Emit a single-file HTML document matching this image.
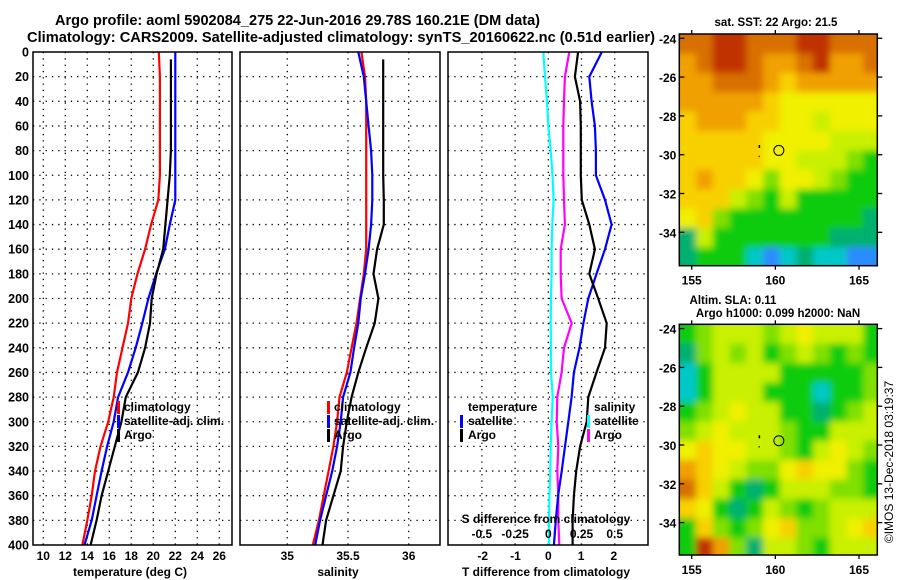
<!DOCTYPE html>
<html><head><meta charset="utf-8">
<style>
html,body{margin:0;padding:0;background:#fff;}
svg{display:block;font-family:"Liberation Sans",sans-serif;font-weight:bold;}
</style></head>
<body>
<svg id="fig" width="900" height="580" viewBox="0 0 900 580" xmlns="http://www.w3.org/2000/svg">
<defs>
<filter id="blur" x="-5%" y="-5%" width="110%" height="110%"><feGaussianBlur stdDeviation="3.5"/></filter>
<clipPath id="clip1"><rect x="679.3" y="34" width="198" height="231.7"/></clipPath>
<clipPath id="clip2"><rect x="679.3" y="324.3" width="198" height="230.7"/></clipPath>
</defs>
<text x="55" y="25" font-size="14.5" textLength="485" lengthAdjust="spacingAndGlyphs">Argo profile: aoml 5902084_275 22-Jun-2016 29.78S 160.21E (DM data)</text>
<text x="27" y="42" font-size="14.5" textLength="628" lengthAdjust="spacingAndGlyphs">Climatology: CARS2009. Satellite-adjusted climatology: synTS_20160622.nc (0.51d earlier)</text>
<g id="root"></g>
</svg>
<script>
// ---- data ----
const depths = [0,20,40,60,80,100,120,140,160,180,200,220,240,260,280,300,320,340,360,380,400];
const depthTicks = [0,20,40,60,80,100,120,140,160,180,200,220,240,260,280,300,320,340,360,380,400];
const tempClim = [20.5,20.6,20.6,20.6,20.6,20.6,20.45,19.8,19.25,18.55,18.0,17.7,17.2,16.7,16.4,15.9,15.2,14.7,14.4,14.0,13.55];
const tempSat  = [22.0,22.0,22.0,22.0,22.0,22.0,22.0,21.5,21.05,20.25,19.55,19.0,18.4,17.7,16.8,16.4,15.8,15.3,14.85,14.4,13.75];
const tempArgo = [21.6,21.6,21.6,21.6,21.6,21.5,21.3,21.1,20.9,20.3,19.85,19.7,19.25,18.6,17.5,17.1,16.5,15.9,15.3,14.85,14.3];
const salClim = [35.61,35.64,35.65,35.65,35.65,35.65,35.65,35.65,35.65,35.63,35.60,35.57,35.53,35.49,35.43,35.41,35.38,35.34,35.30,35.26,35.21];
const salSat  = [35.585,35.63,35.65,35.67,35.69,35.70,35.70,35.69,35.67,35.64,35.605,35.585,35.55,35.52,35.46,35.44,35.41,35.37,35.32,35.27,35.23];
const salArgo = [35.79,35.79,35.79,35.79,35.79,35.79,35.795,35.795,35.74,35.71,35.75,35.72,35.65,35.585,35.53,35.49,35.46,35.44,35.38,35.32,35.29];
const tDiffSat  = [1.63,1.25,1.32,1.42,1.45,1.45,1.73,1.93,1.73,1.47,1.22,1.07,0.95,0.78,0.71,0.61,0.51,0.41,0.30,0.23,0.17];
const tDiffArgo = [0.91,0.81,0.97,0.99,0.99,0.99,1.02,1.25,1.42,1.25,1.52,1.78,1.73,1.47,1.22,1.17,0.97,0.85,0.78,0.74,0.74];
const sDiffSat  = [-0.038,-0.025,-0.01,0.0,0.018,0.032,0.04,0.03,0.025,0.025,0.02,0.018,0.02,0.02,0.033,0.025,0.018,0.015,0.008,0.006,0.005];
const sDiffArgo = [0.158,0.125,0.118,0.113,0.113,0.113,0.118,0.125,0.093,0.093,0.1,0.176,0.118,0.1,0.068,0.063,0.075,0.068,0.075,0.075,0.083];
const tempTicks = [10,12,14,16,18,20,22,24,26];
const salTicks = [35,35.5,36];
const salTickLabels = ["35","35.5","36"];
const tdTicks = [-2,-1,0,1,2];
const sdTicks = [-0.5,-0.25,0,0.25,0.5];
const sdTickLabels = ["-0.5","-0.25","0","0.25","0.5"];
const latTicks = [-24,-26,-28,-30,-32,-34];
const lonTicks = [155,160,165];
const argoLon = 160.21, argoLat = -29.78;
const sstGrid = [
[9,9,10,10,9,9,9,10,10,9,9,9],
[8,9,10,10,9,8,8,9,10,8,8,9],
[8,8,9,9,9,8,7,8,8,8,8,8],
[8,8,8,8,8,7,6,6,6,6,6,6],
[7,8,8,8,7,7,6,6,5,6,6,6],
[7,7,7,7,7,6,6,6,6,5,5,5],
[7,7,7,7,7,6,6,5,5,5,4,3],
[7,8,7,7,6,4,6,6,5,4,3,3],
[7,7,7,5,4,3,5,3,3,3,3,3],
[6,7,4,3,3,3,3,3,3,3,3,2],
[2,5,3,3,3,3,3,3,3,2,2,2],
[2,3,3,3,1,0,1,2,1,1,0,0]];
const slaGrid = [
[3,4,5,5,5,4,5,6,5,5,5,3],
[2,4,5,4,5,3,4,5,4,3,4,3],
[1,3,5,5,5,5,3,3,3,3,3,4],
[1,3,5,5,5,3,3,3,1,3,3,4],
[3,4,5,6,5,5,3,3,2,3,4,5],
[4,5,6,5,5,5,4,3,3,5,5,5],
[6,7,6,6,5,5,4,3,5,6,5,4],
[8,7,6,5,4,4,6,7,6,6,4,3],
[9,7,5,3,2,3,5,5,5,4,4,3],
[7,6,3,2,3,5,4,3,4,5,5,5],
[3,7,4,3,4,6,7,4,4,5,6,7],
[3,10,8,4,2,5,5,4,3,5,5,5]];
const palette = ["#2a8cff","#00c8c8","#00b070","#10cc10","#80e000","#c8f000","#f0f000","#f8d000","#f0a000","#d87000","#c03000"];

// ---- helpers ----
const NS="http://www.w3.org/2000/svg";
const root=document.getElementById('root');
function mk(tag,attrs,parent){const e=document.createElementNS(NS,tag);for(const k in attrs)e.setAttribute(k,attrs[k]);(parent||root).appendChild(e);return e;}
function txt(x,y,s,attrs,parent){const e=mk('text',Object.assign({x:x,y:y,'font-size':12},attrs||{}),parent);e.textContent=s;return e;}

const PT=52, PB=545;
const yD = d => PT + (d/400)*(PB-PT);
function lin(v0,p0,v1,p1){return v=>p0+(v-v0)*(p1-p0)/(v1-v0);}

const panels=[
 {x0:33,x1:232,name:'temperature-panel'},
 {x0:240,x1:440,name:'salinity-panel'},
 {x0:448,x1:648,name:'difference-panel'}];
const xT = lin(10,43.3,26,219.3);
const xS = lin(35,287.3,36,408.7);
const xTd = lin(0,548.3,1,581.1);
const xSd = lin(0,548.3,0.25,581.5);

depthTicks.forEach(d=>{
  const t=txt(29,yD(d)+4.5,String(d),{'text-anchor':'end','font-size':12.5});
  
  
});

function grid(p,xs){
  const g=mk('g',{});
  
  
  depthTicks.forEach(d=>{ if(d>0&&d<400) mk('line',{x1:p.x0,x2:p.x1,y1:yD(d),y2:yD(d),stroke:'#000','stroke-width':1.3,'stroke-dasharray':'1.3 5'},g);});
  xs.forEach(x=>mk('line',{x1:x,x2:x,y1:PT,y2:PB,stroke:'#000','stroke-width':1.3,'stroke-dasharray':'1.3 5'},g));
}
function frame(p){
  const r=mk('rect',{x:p.x0,y:PT,width:p.x1-p.x0,height:PB-PT,fill:'none',stroke:'#000','stroke-width':1.5});
  
  
}
function line(vals,xf,color,name,startDepth){
  const pts=vals.map((v,i)=>[xf(v),yD(i===0&&startDepth!==undefined?startDepth:depths[i])]);
  const pl=mk('polyline',{points:pts.map(p=>p[0].toFixed(1)+','+p[1].toFixed(1)).join(' '),fill:'none',stroke:color,'stroke-width':2.2,'stroke-linejoin':'round'});
  
  
}
function legendMark(x,y,color,name){
  const r=mk('rect',{x:x,y:y-10,width:3,height:13,fill:color});
  
  
}
const FS=12;

// panel 1
grid(panels[0],tempTicks.map(xT));
line(tempClim,xT,'#ff0000','temp-climatology-line');
line(tempSat,xT,'#0000ff','temp-satellite-line');
line(tempArgo,xT,'#000000','temp-argo-line',6);
frame(panels[0]);
tempTicks.forEach(v=>{const t=txt(xT(v),560,String(v),{'text-anchor':'middle','font-size':FS});
  
  });
{const t=txt(130,576,'temperature (deg C)',{'text-anchor':'middle','font-size':FS});
 }
[['climatology','#ff0000'],['satellite-adj. clim.','#0000ff'],['Argo','#000000']].forEach((e,i)=>{
  legendMark(117,411+i*14,e[1],'temp-legend-mark');
  const t=txt(124,411+i*14,e[0],{'font-size':FS});
  
});

// panel 2
grid(panels[1],salTicks.map(xS));
line(salClim,xS,'#ff0000','sal-climatology-line');
line(salSat,xS,'#0000ff','sal-satellite-line');
line(salArgo,xS,'#000000','sal-argo-line',6);
frame(panels[1]);
salTicks.forEach((v,i)=>{const t=txt(xS(v),560,salTickLabels[i],{'text-anchor':'middle','font-size':FS});
  });
{const t=txt(338,576,'salinity',{'text-anchor':'middle','font-size':FS});
 }
[['climatology','#ff0000'],['satellite-adj. clim.','#0000ff'],['Argo','#000000']].forEach((e,i)=>{
  legendMark(327,411+i*14,e[1],'sal-legend-mark');
  const t=txt(334,411+i*14,e[0],{'font-size':FS});
  
});

// panel 3
grid(panels[2],sdTicks.map(xSd));
line(sDiffSat,xSd,'#00ffff','sdiff-satellite-line');
line(sDiffArgo,xSd,'#ff00ff','sdiff-argo-line');
line(tDiffSat,xTd,'#0000ff','tdiff-satellite-line');
line(tDiffArgo,xTd,'#000000','tdiff-argo-line');
frame(panels[2]);
tdTicks.forEach(v=>{const t=txt(xTd(v),560,String(v),{'text-anchor':'middle','font-size':FS});
  });
sdTicks.forEach((v,i)=>{const t=txt(xSd(v),538,sdTickLabels[i],{'text-anchor':'middle','font-size':FS});
  });
{const t=txt(546,523,'S difference from climatology',{'text-anchor':'middle','font-size':FS});
 }
{const t=txt(546,576,'T difference from climatology',{'text-anchor':'middle','font-size':FS});
 }
{const t=txt(468,411,'temperature',{'font-size':FS});}
{const t=txt(594,411,'salinity',{'font-size':FS});}
[['satellite','#0000ff'],['Argo','#000000']].forEach((e,i)=>{
  legendMark(460,425+i*14,e[1],'tdiff-legend-mark');
  const t=txt(468,425+i*14,e[0],{'font-size':FS});
  
});
[['satellite','#00ffff'],['Argo','#ff00ff']].forEach((e,i)=>{
  legendMark(587,425+i*14,e[1],'sdiff-legend-mark');
  const t=txt(594,425+i*14,e[0],{'font-size':FS});
  
});

// maps
const MX0=679.3, MX1=877.3;
const xLon = lin(155,691.7,165,859);
function drawMap(grid,top,bottom,name,clip,titles){
  const yLat = lin(-24,top+4.3,-34,top+198.3);
  const g=mk('g',{});
  
  
  const cg=mk('g',{'clip-path':'url(#'+clip+')'},g);
  const bg=mk('g',{filter:'url(#blur)'},cg);
  const lon0=154.26, lat0=-23.78;
  const cw=xLon(1)-xLon(0), ch=yLat(-1)-yLat(0);
  grid.forEach((row,r)=>row.forEach((v,c)=>{
    let x=xLon(lon0+c), y=yLat(lat0-r), w=cw+0.6, h=ch+0.6;
    if(c===0){x-=12;w+=12;} if(c===row.length-1){w+=12;}
    if(r===0){y-=12;h+=12;} if(r===grid.length-1){h+=12;}
    const cell=mk('rect',{x:x.toFixed(2),y:y.toFixed(2),width:w.toFixed(2),height:h.toFixed(2),fill:palette[v]},bg);
    
    
  }));
  mk('rect',{x:MX0,y:top,width:MX1-MX0,height:bottom-top,fill:'none',stroke:'#000','stroke-width':1.5},g);
  latTicks.forEach(v=>{
    mk('line',{x1:MX0,x2:MX0+5,y1:yLat(v),y2:yLat(v),stroke:'#000','stroke-width':1.3},g);
    mk('line',{x1:MX1,x2:MX1+5,y1:yLat(v),y2:yLat(v),stroke:'#000','stroke-width':1.3},g);
    const t=txt(MX0-3,yLat(v)+5,String(v),{'text-anchor':'end','font-size':FS},g);
    
  });
  lonTicks.forEach(v=>{
    mk('line',{x1:xLon(v),x2:xLon(v),y1:top-4,y2:top,stroke:'#000','stroke-width':1.3},g);
    mk('line',{x1:xLon(v),x2:xLon(v),y1:bottom,y2:bottom+4,stroke:'#000','stroke-width':1.3},g);
    const t=txt(xLon(v),bottom+19,String(v),{'text-anchor':'middle','font-size':FS},g);
    
  });
  const c=mk('circle',{cx:xLon(argoLon),cy:yLat(argoLat),r:5,fill:'none',stroke:'#000','stroke-width':1},g);
  
  
  mk('rect',{x:xLon(159.0),y:yLat(-29.5),width:1.5,height:3,fill:'#000'},g);
  mk('rect',{x:xLon(159.0),y:yLat(-30)+1,width:1,height:1.5,fill:'#000'},g);
  titles.forEach(tt=>{const t=txt(tt[0],tt[1],tt[2],{'text-anchor':'middle','font-size':11.5},g);
    });
}
drawMap(sstGrid,34,265.7,'sst-map','clip1',[[776,26,'sat. SST: 22 Argo: 21.5']]);
drawMap(slaGrid,324.3,555,'sla-map','clip2',[[733,304,'Altim. SLA: 0.11'],[778,317,'Argo h1000: 0.099 h2000: NaN']]);
{const t=txt(0,0,'©IMOS 13-Dec-2018 03:19:37',{'font-size':12,'font-weight':'normal','text-anchor':'middle',transform:'translate(893,462) rotate(-90)'});
 }
</script>
</body></html>
